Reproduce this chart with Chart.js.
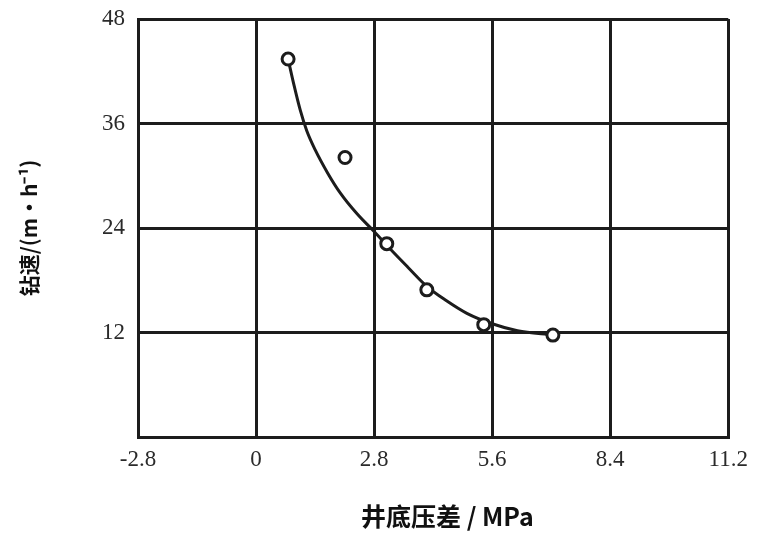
<!DOCTYPE html>
<html>
<head>
<meta charset="utf-8">
<script src="https://cdn.jsdelivr.net/npm/chart.js@4"></script>
<style>
  html, body { margin: 0; padding: 0; background: #fff; }
  #wrap { width: 757px; height: 533px; }
</style>
</head>
<body>
<div id="wrap"><canvas id="c" width="757" height="533"></canvas></div>
<script>
// measured points (井底压差 MPa, 钻速 m/h)
const pointX = [0.76, 2.11, 3.10, 4.05, 5.40, 7.04];
const pointY = [43.4, 32.1, 22.2, 16.9, 12.9, 11.7];

// fitted curve
const curveX = [0.76, 0.9, 1.05, 1.2, 1.4, 1.7, 2.0, 2.4, 2.8, 3.2, 3.6, 4.05, 4.5, 5.0, 5.6, 6.2, 7.04];
const curveY = [43.4, 40.4, 37.5, 35.2, 33.0, 30.3, 28.0, 25.6, 23.6, 21.5, 19.5, 17.3, 15.7, 14.2, 13.0, 12.2, 11.7];

const xTicks = [-2.8, 0, 2.8, 5.6, 8.4, 11.2];
const yTicks = [0, 12, 24, 36, 48];

const ink = "#1c1c1c";
const tickFont = { family: "Liberation Serif", size: 23 };

new Chart(document.getElementById("c"), {
    type: "scatter",
    data: {
        datasets: [{
            data: curveX.map((x, i) => ({ x: x, y: curveY[i] })),
            showLine: true,
            borderColor: ink,
            borderWidth: 3,
            pointRadius: 0,
            cubicInterpolationMode: "monotone",
            order: 2
        }, {
            data: pointX.map((x, i) => ({ x: x, y: pointY[i] })),
            pointRadius: 6,
            pointBorderWidth: 3,
            pointBorderColor: ink,
            pointBackgroundColor: "#fff",
            order: 1
        }]
    },
    options: {
        responsive: false,
        animation: false,
        layout: { padding: { top: 19, right: 26, left: 0, bottom: 0 } },
        plugins: { legend: { display: false }, tooltip: { enabled: false } },
        scales: {
            x: {
                min: -2.8, max: 11.2,
                afterBuildTicks: s => { s.ticks = xTicks.map(v => ({ value: v })); },
                afterFit: s => { s.height = 96; },
                grid: { color: ink, lineWidth: 3, drawTicks: false },
                border: { color: ink, width: 3 },
                ticks: {
                    color: "#2a2a2a", font: tickFont, padding: 9, maxRotation: 0,
                    callback: v => v === 0 ? "0" : v.toFixed(1)
                },
                title: {
                    display: true, text: "     井底压差 / MPa", color: "#111",
                    font: { family: "Noto Sans CJK SC", size: 25, weight: "bold" },
                    padding: { top: 0, bottom: 2 }
                }
            },
            y: {
                min: 0, max: 48,
                afterBuildTicks: s => { s.ticks = yTicks.map(v => ({ value: v })); },
                afterFit: s => { s.width = 138; s.paddingTop = 0; s.paddingBottom = 0; },
                grid: { color: ink, lineWidth: 3, drawTicks: false },
                border: { color: ink, width: 3 },
                ticks: {
                    color: "#2a2a2a", font: tickFont, padding: 13,
                    callback: v => v === 0 ? "" : String(v)
                },
                title: {
                    display: true, text: "钻速/(m·h⁻¹)", color: "#111",
                    font: { family: "Noto Sans CJK SC", size: 21, weight: "bold" },
                    padding: { top: 16, bottom: 0 }
                }
            }
        }
    }
});
</script>
</body>
</html>
